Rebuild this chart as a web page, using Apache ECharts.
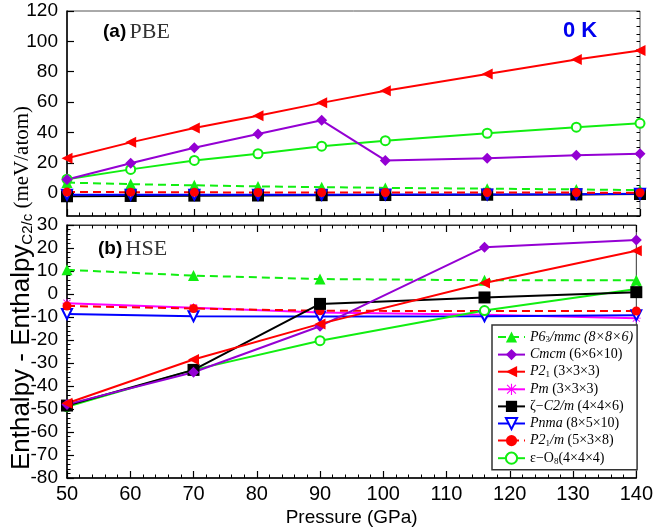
<!DOCTYPE html>
<html><head><meta charset="utf-8">
<script src="https://cdn.jsdelivr.net/npm/echarts@6/dist/echarts.min.js"></script>
<style>html,body{margin:0;padding:0;background:#fff}#c{width:656px;height:529px}</style>
</head><body><div id="c"></div>
<script>
// ---- data ----
const pTop = [50, 60, 70, 80, 90, 100, 116, 130, 140];
const pBot = [50, 70, 90, 116, 140];

const pbe_P63mmc = [7, 6, 5.2, 4.5, 4, 3.5, 3, 2.5, 2];
const pbe_Cmcm   = [9, 19.7, 30, 39, 48, 21.6, 23, 25, 26];
const pbe_P21    = [23, 33.5, 43, 51, 59.5, 67.5, 78.5, 88, 94];
const pbe_C2m    = [-2, -1.8, -1.6, -1.5, -1.3, -1.2, -1, -0.8, -0.5];
const pbe_Pnma   = [-1, -1, -1, -1, -1, -0.8, -0.8, -0.6, -0.4];
const pbe_P21m   = [0.8, 0.7, 0.6, 0.5, 0.5, 0.5, 0.4, 0.4, 0.3];
const pbe_O8     = [9.2, 15.7, 21.6, 26, 31, 34.6, 39.5, 43.5, 46];

const hse_P63mmc = [10.5, 8, 6.5, 6, 6];
const hse_Cmcm   = [-48, -34, -14, 20.3, 23.5];
const hse_P21    = [-47.5, -28.5, -13, 4.8, 18.8];
const hse_Pm     = [-4, -6, -8, -9, -10.5];
const hse_C2m    = [-48.5, -33, -4.3, -1.5, 0.8];
const hse_Pnma   = [-8.7, -9.7, -9.8, -9.7, -9.2];
const hse_P21m   = [-5.2, -6.3, -7.3, -7.4, -7.4];
const hse_O8     = [-49, -33, -20.3, -7.2, 2.2];

const topYLabels = [0, 20, 40, 60, 80, 100, 120];
const xLabels = [50, 60, 70, 80, 90, 100, 110, 120, 130, 140];

const names = ['P63mmc', 'Cmcm', 'P21', 'Pm', 'C2m', 'Pnma', 'P21m', 'O8'];
const legendText = {
  P63mmc: '{i|P6}{s|3}{i|/mmc (8×8×6)}',
  Cmcm: '{i|Cmcm} {n|(6×6×10)}',
  P21: '{i|P2}{s|1} {n|(3×3×3)}',
  Pm: '{i|Pm} {n|(3×3×3)}',
  C2m: '{n|ζ−}{i|C2/m} {n|(4×4×6)}',
  Pnma: '{i|Pnma} {n|(8×5×10)}',
  P21m: '{i|P2}{s|1}{i|/m} {n|(5×3×8)}',
  O8: '{n|ε−O}{s|8}{n|(4×4×4)}'
};

// ---- styles ----
const GREEN = '#11ee11', RED = '#ff0000', PURPLE = '#9400d3', BLUE = '#0000ff', MAG = '#ff00ff';
const asterisk = 'path://M9 0L11 0L11 20L9 20Z M0 9L20 9L20 11L0 11Z M1.4 2.8L2.8 1.4L18.6 17.2L17.2 18.6Z M17.2 1.4L18.6 2.8L2.8 18.6L1.4 17.2Z';
const styles = {
  P63mmc: {symbol: 'triangle', symbolSize: 11, itemStyle: {color: GREEN}, lineStyle: {color: GREEN, width: 2, type: [8, 5]}},
  Cmcm: {symbol: 'diamond', symbolSize: 11, itemStyle: {color: PURPLE}, lineStyle: {color: PURPLE, width: 2}},
  P21: {symbol: 'triangle', symbolRotate: 90, symbolSize: 11, itemStyle: {color: RED}, lineStyle: {color: RED, width: 2}},
  Pm: {symbol: asterisk, symbolSize: 9, itemStyle: {color: MAG}, lineStyle: {color: MAG, width: 2}},
  C2m: {symbol: 'rect', symbolSize: 12, itemStyle: {color: '#000'}, lineStyle: {color: '#000', width: 2}},
  Pnma: {symbol: 'triangle', symbolRotate: 180, symbolSize: 10, itemStyle: {color: '#fff', borderColor: BLUE, borderWidth: 2}, lineStyle: {color: BLUE, width: 2}},
  P21m: {symbol: 'circle', symbolSize: 9, itemStyle: {color: RED}, lineStyle: {color: RED, width: 2, type: [8, 5]}},
  O8: {symbol: 'emptyCircle', symbolSize: 9, itemStyle: {color: GREEN, borderWidth: 2}, lineStyle: {color: GREEN, width: 2}}
};

function mk(name, xs, ys, gi) {
  const s = styles[name];
  return Object.assign({
    type: 'line', name: name, xAxisIndex: gi === 0 ? 0 : 1, yAxisIndex: gi === 0 ? 0 : 2,
    showAllSymbol: true, animation: false, clip: false,
    data: xs.map((x, i) => [x, ys[i]])
  }, JSON.parse(JSON.stringify(s)), {symbol: s.symbol});
}

const series = [
  mk('P63mmc', pTop, pbe_P63mmc, 0),
  mk('C2m', pTop, pbe_C2m, 0),
  mk('Pnma', pTop, pbe_Pnma, 0),
  mk('P21m', pTop, pbe_P21m, 0),
  mk('O8', pTop, pbe_O8, 0),
  mk('Cmcm', pTop, pbe_Cmcm, 0),
  mk('P21', pTop, pbe_P21, 0),
  mk('P63mmc', pBot, hse_P63mmc, 1),
  mk('Pm', pBot, hse_Pm, 1),
  mk('Pnma', pBot, hse_Pnma, 1),
  mk('P21m', pBot, hse_P21m, 1),
  mk('O8', pBot, hse_O8, 1),
  mk('C2m', pBot, hse_C2m, 1),
  mk('Cmcm', pBot, hse_Cmcm, 1),
  mk('P21', pBot, hse_P21, 1)
];

const FONT = 'Liberation Sans';
const SERIF = 'Liberation Serif';
const axLine = {show: true, onZero: false, lineStyle: {color: '#000', width: 1.5}};
const tickIn = {show: true, inside: true, length: 7, lineStyle: {color: '#000', width: 1.2}};
const minorIn = {show: true, splitNumber: 5, length: 3.5, lineStyle: {color: '#000', width: 1}};
const lblStyle = {fontFamily: FONT, fontSize: 19, color: '#000'};

const gridL = 67, gridR = 16;
const option = {
  backgroundColor: '#fff',
  animation: false,
  grid: [
    {left: gridL, right: gridR, top: 11, height: 205, show: true, borderColor: '#555', borderWidth: 1, backgroundColor: 'transparent'},
    {left: gridL, right: gridR, top: 225, height: 253, show: true, borderColor: '#333', borderWidth: 1, backgroundColor: 'transparent'}
  ],
  xAxis: [
    {type: 'value', gridIndex: 0, min: 50, max: 140, interval: 10, axisLine: axLine, axisTick: tickIn, minorTick: minorIn, axisLabel: {show: false}, splitLine: {show: false}},
    {type: 'value', gridIndex: 1, min: 50, max: 140, interval: 10, axisLine: axLine, axisTick: tickIn, minorTick: minorIn,
      axisLabel: Object.assign({margin: 6, customValues: xLabels}, lblStyle, {fontSize: 20}), splitLine: {show: false},
      name: 'Pressure (GPa)', nameLocation: 'middle', nameGap: 30, nameTextStyle: {fontFamily: FONT, fontSize: 19, color: '#000'}},
    {type: 'value', gridIndex: 1, position: 'top', min: 50, max: 140, interval: 10, axisLine: {show: true, onZero: false, lineStyle: {color: '#333', width: 1}}, axisTick: tickIn, minorTick: minorIn, axisLabel: {show: false}, splitLine: {show: false}}
  ],
  yAxis: [
    {type: 'value', gridIndex: 0, min: -15, max: 120, interval: 5,
      axisLine: axLine,
      axisTick: Object.assign({}, tickIn, {customValues: topYLabels}),
      axisLabel: Object.assign({margin: 9, customValues: topYLabels}, lblStyle), splitLine: {show: false}},
    {type: 'value', gridIndex: 0, min: -15, max: 120, interval: 5,
      axisLine: {show: false, onZero: false}, axisTick: {show: true, inside: true, length: 3.5, lineStyle: {color: '#000', width: 1}},
      axisLabel: {show: false}, splitLine: {show: false}},
    {type: 'value', gridIndex: 1, min: -80, max: 30, interval: 10, axisLine: axLine, axisTick: tickIn,
      minorTick: {show: true, splitNumber: 5, length: 3.5, lineStyle: {color: '#000', width: 1}},
      axisLabel: Object.assign({margin: 9}, lblStyle), splitLine: {show: false}}
  ],
  legend: {
    left: 492, top: 325, width: 146, height: 144,
    orient: 'vertical', backgroundColor: '#fff', borderColor: '#333', borderWidth: 1.5,
    padding: [5, 4, 4, 5], itemGap: 3.1, itemWidth: 27, itemHeight: 14,
    data: names,
    formatter: n => legendText[n],
    textStyle: {
      fontFamily: SERIF, fontSize: 14, color: '#000',
      rich: {
        i: {fontFamily: SERIF, fontStyle: 'italic', fontSize: 14, color: '#000'},
        n: {fontFamily: SERIF, fontSize: 14, color: '#000'},
        s: {fontFamily: SERIF, fontSize: 9, color: '#000', verticalAlign: 'bottom', padding: [6, 0, 0, 0]}
      }
    }
  },
  graphic: [
    {type: 'text', x: 103, y: 32, style: {text: '{b|(a)} {s|PBE}', verticalAlign: 'middle',
      rich: {b: {fontFamily: FONT, fontWeight: 'bold', fontSize: 19, fill: '#000'}, s: {fontFamily: SERIF, fontSize: 22, fill: '#333'}}}},
    {type: 'text', x: 98, y: 249, style: {text: '{b|(b)} {s|HSE}', verticalAlign: 'middle',
      rich: {b: {fontFamily: FONT, fontWeight: 'bold', fontSize: 19, fill: '#000'}, s: {fontFamily: SERIF, fontSize: 22, fill: '#333'}}}},
    {type: 'text', x: 563, y: 31, style: {text: '0 K', fontFamily: FONT, fontWeight: 'bold', fontSize: 22, fill: '#0000ee', verticalAlign: 'middle'}},
    {type: 'text', x: 22, y: 288, rotation: Math.PI / 2,
      style: {text: '{a|Enthalpy - Enthalpy}{s|C2/c}{b| (meV/atom)}', align: 'center', verticalAlign: 'middle',
        rich: {
          a: {fontFamily: FONT, fontSize: 26, fill: '#000'},
          s: {fontFamily: FONT, fontSize: 15, fill: '#000', verticalAlign: 'bottom', padding: [10, 0, 0, 0]},
          b: {fontFamily: SERIF, fontSize: 21, fill: '#000'}
        }}}
  ],
  series: series
};

const chart = echarts.init(document.getElementById('c'), null, {renderer: 'canvas'});
chart.setOption(option);
</script>
</body></html>
